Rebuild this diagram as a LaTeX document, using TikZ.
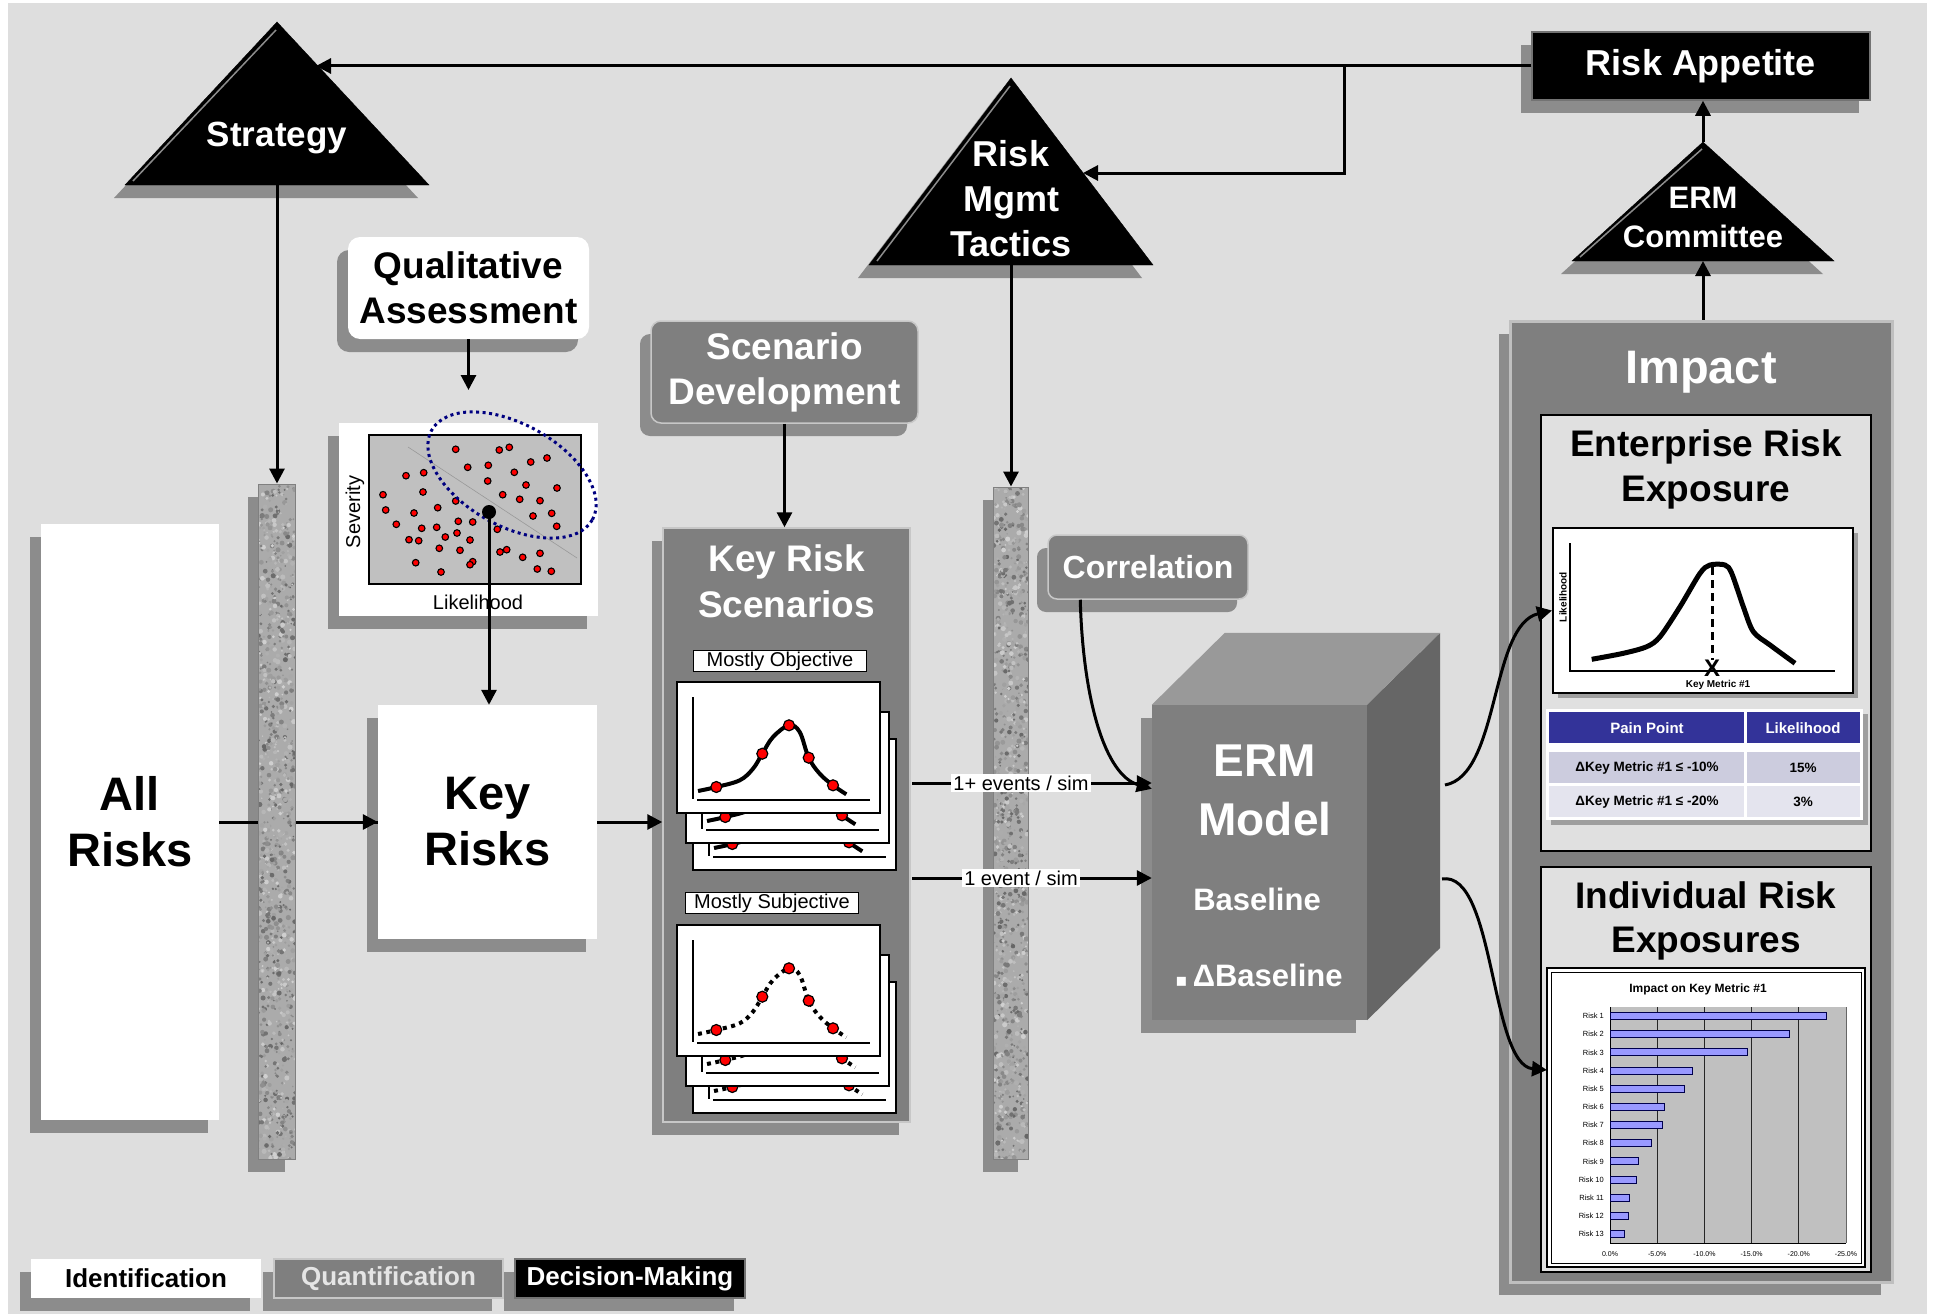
\documentclass[tikz,border=0pt]{standalone}
\usepackage{fontspec}
\setmainfont{Liberation Sans}
\newfontfamily\djv{DejaVu Sans}
\usetikzlibrary{arrows.meta,shadows,calc}
\definecolor{bg}{HTML}{DEDEDE}
\definecolor{boxgray}{HTML}{7F7F7F}
\definecolor{shadc}{HTML}{8C8C8C}
\definecolor{navyd}{HTML}{000080}
\definecolor{tblue}{HTML}{333399}
\definecolor{trowa}{HTML}{CCCCDE}
\definecolor{trowb}{HTML}{E4E4EE}
\definecolor{barblue}{HTML}{9999FF}
\definecolor{plotgray}{HTML}{C0C0C0}
\definecolor{panelc}{HTML}{E0E0E0}
\newcommand\fsz[2]{\fontsize{#1}{#2}\selectfont}
\newcommand\granite[4]{%
  \begin{scope}
  \clip (#1,#2) rectangle (#3,#4);
  \fill[black!33] (#1,#2) rectangle (#3,#4);
  \foreach \k in {1,...,1100}{%
    \pgfmathsetmacro\gx{#1+rnd*(#3-#1)}%
    \pgfmathsetmacro\gy{#2+rnd*(#4-#2)}%
    \pgfmathsetmacro\gr{0.8+1.8*rnd}%
    \pgfmathsetmacro\gc{18+42*rnd}%
    \fill[black!\gc] (\gx,\gy) circle[radius=\gr pt];
  }
  \end{scope}}
\newcommand\scard[3]{%
  \begin{scope}[shift={(#1,#2)}]
  \filldraw[fill=white, draw=black, line width=1.5pt] (0,0) rectangle (203,131);
  \draw[line width=2.5pt] (16,15) -- (16,117);
  \draw[line width=2.5pt] (20,118) -- (193,118);
  \draw[line width=4pt, #3] plot[smooth, tension=0.6] coordinates {(21,109) (39.3,105) (62.7,98.3) (76,86.7) (85.3,71.7) (96,55) (112,43.3) (122.7,50) (131.7,75.7) (142.7,91.7) (156,103.3) (169.3,112.3)};
  \foreach \q in {(39.3,105),(85.3,71.7),(112,43.3),(131.7,75.7),(156,103.3)}
    \filldraw[fill=red, draw=black, line width=1.2pt] \q circle[radius=5.5pt];
  \end{scope}}
\tikzset{
  conn/.style={line width=3pt, -{Triangle[length=15pt,width=15pt]}},
  lin/.style={line width=3pt},
  shd/.style={drop shadow={shadow xshift=-11pt, shadow yshift=-13pt, fill=shadc, opacity=1}},
  shdr/.style={drop shadow={shadow xshift=5pt, shadow yshift=-5pt, fill=black!55, opacity=0.6}},
  wbox/.style={fill=white, inner sep=0pt, align=center, font=\bfseries\fsz{47}{56}},
  gbox/.style={fill=boxgray, draw=black!22, line width=1.5pt, align=center, text=white, font=\bfseries\fsz{37}{45}, inner sep=0pt},
  trifill/.style={fill=black, shd},
  tritext/.style={text=white, align=center, inner sep=0pt},
  panel/.style={fill=panelc, draw=black, line width=2pt, inner sep=0pt},
  smalllabel/.style={fill=white, draw=black, line width=1.2pt, inner sep=1pt, font=\fsz{20}{22}},
  evlabel/.style={fill=white, inner sep=2pt, font=\fsz{20}{24}},
  dotc/.style={fill=red, draw=black, line width=1.1pt},
}
\begin{document}
\begin{tikzpicture}[x=1pt,y=-1pt]
\useasboundingbox (0,0) rectangle (1933,1314);
\fill[white] (0,0) rectangle (1933,1314);
\fill[bg] (8,3) rectangle (1927,1314);
\pgfmathsetseed{7}

% ---------- decision triangles ----------
\filldraw[trifill] (125,185) -- (277,22) -- (429,185) -- cycle;
\draw[black!45, line width=1.5pt] (133,181) -- (276,30);
\node[tritext, font=\bfseries\fsz{35}{42}] (strategy) at (277,138) {Strategy};
\coordinate (stratR) at (316,64);
\coordinate (stratB) at (277,185);

\filldraw[trifill] (869,265) -- (1011,78) -- (1153,265) -- cycle;
\draw[black!45, line width=1.5pt] (877,261) -- (1010,86);
\node[tritext, font=\bfseries\fsz{36}{45}] (tactics) at (1011,199) {Risk\\Mgmt\\Tactics};
\coordinate (tactR) at (1083,173);
\coordinate (tactB) at (1011,265);

\filldraw[trifill] (1572,261) -- (1703,142) -- (1834,261) -- cycle;
\draw[black!45, line width=1.5pt] (1580,257) -- (1702,149);
\node[tritext, font=\bfseries\fsz{31}{39}] (ermc) at (1703,217) {ERM\\Committee};
\coordinate (ecA) at (1703,142);
\coordinate (ecB) at (1703,261);

\node[fill=black, draw=black!55, line width=1.5pt, minimum width=338pt, minimum height=68pt, inner sep=0pt, text=white, font=\bfseries\fsz{36}{42}, shd] (ra) at (1701,66) {Risk Appetite};

\draw[conn] (ra.west) -- (stratR |- ra.west);
\coordinate (br) at (1344,66);
\draw[conn] (br) |- (tactR);
\draw[conn] (ecA) -- (ecA |- ra.south);

% ---------- identification ----------
\node[wbox, minimum width=178pt, minimum height=596pt, shd] (allrisks) at (130,822) {All\\Risks};
\node[wbox, minimum width=219pt, minimum height=234pt, shd] (keyrisks) at (487.5,822) {Key\\Risks};

\node[fill=white, rounded corners=12pt, minimum width=241pt, minimum height=102pt, inner sep=0pt, align=center, font=\bfseries\fsz{37}{45}, shd] (qual) at (468.5,288) {Qualitative\\Assessment};
\coordinate (qa) at (468.5,390);
\draw[conn] (qual.south) -- (qa);

\node[fill=white, minimum width=259pt, minimum height=193pt, inner sep=0pt, shd] (scat) at (468.5,519.5) {};
\filldraw[fill=plotgray, draw=black, line width=1.8pt] (369,435) rectangle (581,584);
\draw[black!40, line width=0.6pt] (408,447) -- (577,558);
\foreach \p in {(455.7,449.3),(499.3,450),(509.3,447.3),(467.7,467.3),(488.3,465.3),(530.7,462),(547,458),(406,475.7),(423.7,472.7),(514.3,472.3),(487.7,481),(526,485),(557,488),(383,494.7),(423,492),(502.7,494.7),(519.7,499.3),(540,500.7),(455.7,501),(385.7,510),(414,513),(437.7,507.7),(533,516),(551.7,513.3),(396.3,524.3),(421.7,528.3),(436.7,527.3),(458.3,521.3),(472.7,522),(497.3,529.3),(556.7,526.3),(409,539.7),(418.7,540.7),(445.3,537),(457,533),(470,540),(439.3,548.3),(460,550.3),(500,552),(506.7,549.7),(522.7,557.3),(540,553.3),(415.7,562.7),(441,572),(472.7,561.7),(470,564.7),(537.3,569),(551.3,571.3)}
  \filldraw[dotc] \p circle[radius=3.3pt];
\node[rotate=90, font=\fsz{20}{24}, inner sep=0pt] (sev) at (355,512) {Severity};
\node[font=\fsz{20}{24}, inner sep=0pt] (lik) at (478,602) {Likelihood};
\draw[navyd, line width=3pt, dash pattern=on 3pt off 3.5pt, rotate around={-29:(512,475)}] (512,475) ellipse[x radius=92pt, y radius=51pt];
\coordinate (sdot) at (489,512);
\fill (sdot) circle[radius=7pt];
\draw[conn] (sdot) -- (sdot |- keyrisks.north);

% ---------- bars ----------
\fill[shadc] (247.5,497) rectangle (284.5,1172);
\fill[shadc] (982.5,500) rectangle (1017.5,1172);
\draw[lin] (allrisks.east) -- (keyrisks.west);
\draw[conn] ($(keyrisks.west)+(-60,0)$) -- (keyrisks.west);
\granite{258.5}{484}{295.5}{1159}
\node[draw=black!50, line width=1pt, minimum width=37pt, minimum height=675pt, inner sep=0pt] (bar1) at (277,821.5) {};
\granite{993.5}{487}{1028.5}{1159}
\node[draw=black!50, line width=1pt, minimum width=35pt, minimum height=672pt, inner sep=0pt] (bar2) at (1011,823) {};

% ---------- quantification ----------
\node[gbox, rounded corners=10pt, minimum width=267pt, minimum height=102pt, shd] (scend) at (784.5,372) {Scenario\\Development};
\node[gbox, minimum width=247pt, minimum height=594pt, shd] (krs) at (786.5,825) {};
\node[text=white, font=\bfseries\fsz{37}{46}, align=center, inner sep=0pt] (krst) at (786.5,581) {Key Risk\\Scenarios};
\draw[conn] (scend.south) -- (scend.south |- krs.north);

\node[smalllabel, minimum width=173pt, minimum height=21pt] (mobj) at (780,661) {Mostly Objective};
\scard{693}{739}{solid}
\scard{686}{712}{solid}
\scard{677}{682}{solid}
\node[smalllabel, minimum width=173pt, minimum height=21pt] (msub) at (772,903) {Mostly Subjective};
\scard{693}{982}{dash pattern=on 4pt off 4.5pt}
\scard{686}{955}{dash pattern=on 4pt off 4.5pt}
\scard{677}{925}{dash pattern=on 4pt off 4.5pt}

\draw[conn] (keyrisks.east) -- (keyrisks.east -| krs.west);
\draw[conn] (stratB) -- (stratB |- bar1.north);
\draw[conn] (tactB) -- (tactB |- bar2.north);

\node[gbox, rounded corners=9pt, minimum width=200pt, minimum height=64pt, font=\bfseries\fsz{32}{38}, shd] (corr) at (1148,567) {Correlation};

% ---------- ERM model cube ----------
\node[fill=boxgray, minimum width=215pt, minimum height=315pt, inner sep=0pt, shd] (erm) at (1259.5,862.5) {};
\fill[black!40] (erm.north west) -- ++(73,-72) -- ++(215,0) -- (erm.north east) -- cycle;
\fill[black!60] (erm.north east) -- ++(73,-72) -- ++(0,315) -- (erm.south east) -- cycle;
\node[text=white, align=center, font=\bfseries\fsz{46}{59}, inner sep=0pt] (ermt) at (1265,790) {ERM\\Model};
\node[text=white, font=\bfseries\fsz{31}{36}, inner sep=0pt] (base) at (1257,899) {Baseline};
\node[text=white, font=\bfseries\fsz{31}{36}, inner sep=0pt] (dbase) at (1259,975) {{\djv\fsz{18}{24}▪}\,ΔBaseline};

\coordinate (ev1) at (912,783);
\coordinate (ev2) at (912,878);
\draw[conn] (ev1) -- (ev1 -| erm.west);
\draw[conn] (ev2) -- (ev2 -| erm.west);
\node[evlabel] (l1) at (1021,783) {1+ events / sim};
\node[evlabel] (l2) at (1021,878) {1 event / sim};

\coordinate (cend) at ($(erm.north west)+(0,84)$);
\draw[conn] ($(corr.south west)+(33,0)$) .. controls (1083,700) and (1105,775) .. (cend);

% ---------- impact ----------
\node[gbox, line width=3pt, draw=black!25, minimum width=382pt, minimum height=961pt, shd] (impact) at (1701,801.5) {};
\node[text=white, font=\bfseries\fsz{47}{56}, inner sep=0pt] (impt) at (1701,372) {Impact};
\draw[conn] (ecB |- impact.north) -- (ecB);

\node[panel, minimum width=330pt, minimum height=436pt] (entp) at (1706,633) {};
\node[font=\bfseries\fsz{37}{45}, align=center, inner sep=0pt] (entt) at (1706,469) {Enterprise Risk\\Exposure};
\node[fill=white, draw=black, line width=2pt, minimum width=300pt, minimum height=165pt, inner sep=0pt, shdr] (echart) at (1703,610.5) {};
\draw[line width=2.5pt] (1570,543) -- (1570,671) -- (1835,671);
\draw[line width=5pt] plot[smooth, tension=0.5] coordinates {(1591.7,659.3) (1623.3,653.3) (1646.7,646.7) (1660,636.7) (1680,606.7) (1700,573.3) (1710,565) (1725,565) (1731.7,573.3) (1743.3,606.7) (1753.3,631.7) (1770,645) (1795,663.3)};
\draw[line width=3pt, dash pattern=on 8pt off 5pt] (1712,567) -- (1712,660);
\node[font=\bfseries\fsz{24}{26}, inner sep=0pt] (xmark) at (1712,668) {X};
\node[font=\bfseries\fsz{10}{12}, inner sep=0pt] (km) at (1718,685) {Key Metric \#1};
\node[rotate=90, font=\bfseries\fsz{10}{12}, inner sep=0pt] (lk) at (1563,597) {Likelihood};

\fill[white, shdr] (1546,709) rectangle (1863,820);
\fill[tblue] (1549,712) rectangle (1744,743);
\fill[tblue] (1747,712) rectangle (1860,743);
\fill[trowa] (1549,752) rectangle (1744,783);
\fill[trowa] (1747,752) rectangle (1860,783);
\fill[trowb] (1549,786) rectangle (1744,817);
\fill[trowb] (1747,786) rectangle (1860,817);
\node[text=white, font=\bfseries\fsz{15}{17}, inner sep=0pt] (th1) at (1647,728) {Pain Point};
\node[text=white, font=\bfseries\fsz{15}{17}, inner sep=0pt] (th2) at (1803,728) {Likelihood};
\node[font=\bfseries\fsz{13.5}{15}, inner sep=0pt] (c11) at (1647,768) {ΔKey Metric \#1 ≤ -10\%};
\node[font=\bfseries\fsz{13.5}{15}, inner sep=0pt] (c12) at (1803,768) {15\%};
\node[font=\bfseries\fsz{13.5}{15}, inner sep=0pt] (c21) at (1647,802) {ΔKey Metric \#1 ≤ -20\%};
\node[font=\bfseries\fsz{13.5}{15}, inner sep=0pt] (c22) at (1803,802) {3\%};

\node[panel, minimum width=330pt, minimum height=405pt] (indp) at (1706,1069.5) {};
\node[font=\bfseries\fsz{37}{44}, align=center, inner sep=0pt] (indt) at (1706,921) {Individual Risk\\Exposures};
\node[fill=white, draw=black, line width=2pt, minimum width=318pt, minimum height=299pt, inner sep=0pt] (ichart) at (1706,1117.5) {};
\draw[black, line width=1pt] (1551,972) rectangle (1861,1263);
\node[font=\bfseries\fsz{12}{14}, inner sep=0pt] (ict) at (1698,989) {Impact on Key Metric \#1};
\fill[plotgray] (1610,1007) rectangle (1846,1243);
\draw[black!60, line width=0.8pt] (1846,1007) -- (1846,1243);
\foreach \k in {1,...,4} \draw[black!85, line width=0.9pt] (1610+\k*47.2,1007) -- (1610+\k*47.2,1243);
\draw[black, line width=1pt] (1610,1007) -- (1610,1243) -- (1846,1243);
\foreach \i/\p in {1/22.95,2/19.0,3/14.5,4/8.7,5/7.9,6/5.75,7/5.5,8/4.4,9/3.0,10/2.8,11/2.05,12/2.0,13/1.5}{
  \pgfmathsetmacro\yy{1016+(\i-1)*18.17}
  \filldraw[fill=barblue, draw=black!70!blue, line width=0.8pt] (1610,\yy-3.5) rectangle ({1610+\p*9.44},\yy+3.5);
  \node[anchor=east, font=\fsz{7.5}{9}, inner sep=0pt] at (1604,\yy) {Risk \i};
}
\foreach \k/\l in {0/0.0,1/-5.0,2/-10.0,3/-15.0,4/-20.0,5/-25.0}
  \node[font=\fsz{7}{9}, inner sep=0pt] at (1610+\k*47.2,1254) {\l\%};

\coordinate (ermR1) at (1445,785);
\coordinate (ermR2) at (1442,879);
\coordinate (ic2) at (1547,1070);
\draw[conn] (ermR1) .. controls (1500,775) and (1490,625) .. (echart.west);
\draw[conn] (ermR2) .. controls (1495,870) and (1490,1065) .. (ic2);

% ---------- legend ----------
\node[fill=white, minimum width=230pt, minimum height=39pt, inner sep=0pt, font=\bfseries\fsz{26}{30}, shd] (lid) at (146,1278.5) {Identification};
\node[gbox, minimum width=229pt, minimum height=39pt, font=\bfseries\fsz{26}{30}, text=black!10, shd] (lq) at (388.5,1278.5) {Quantification};
\node[fill=black, draw=black!55, line width=1.5pt, minimum width=230pt, minimum height=39pt, inner sep=0pt, text=white, font=\bfseries\fsz{26}{30}, shd] (ldm) at (630,1278.5) {Decision-Making};
\end{tikzpicture}
\end{document}
